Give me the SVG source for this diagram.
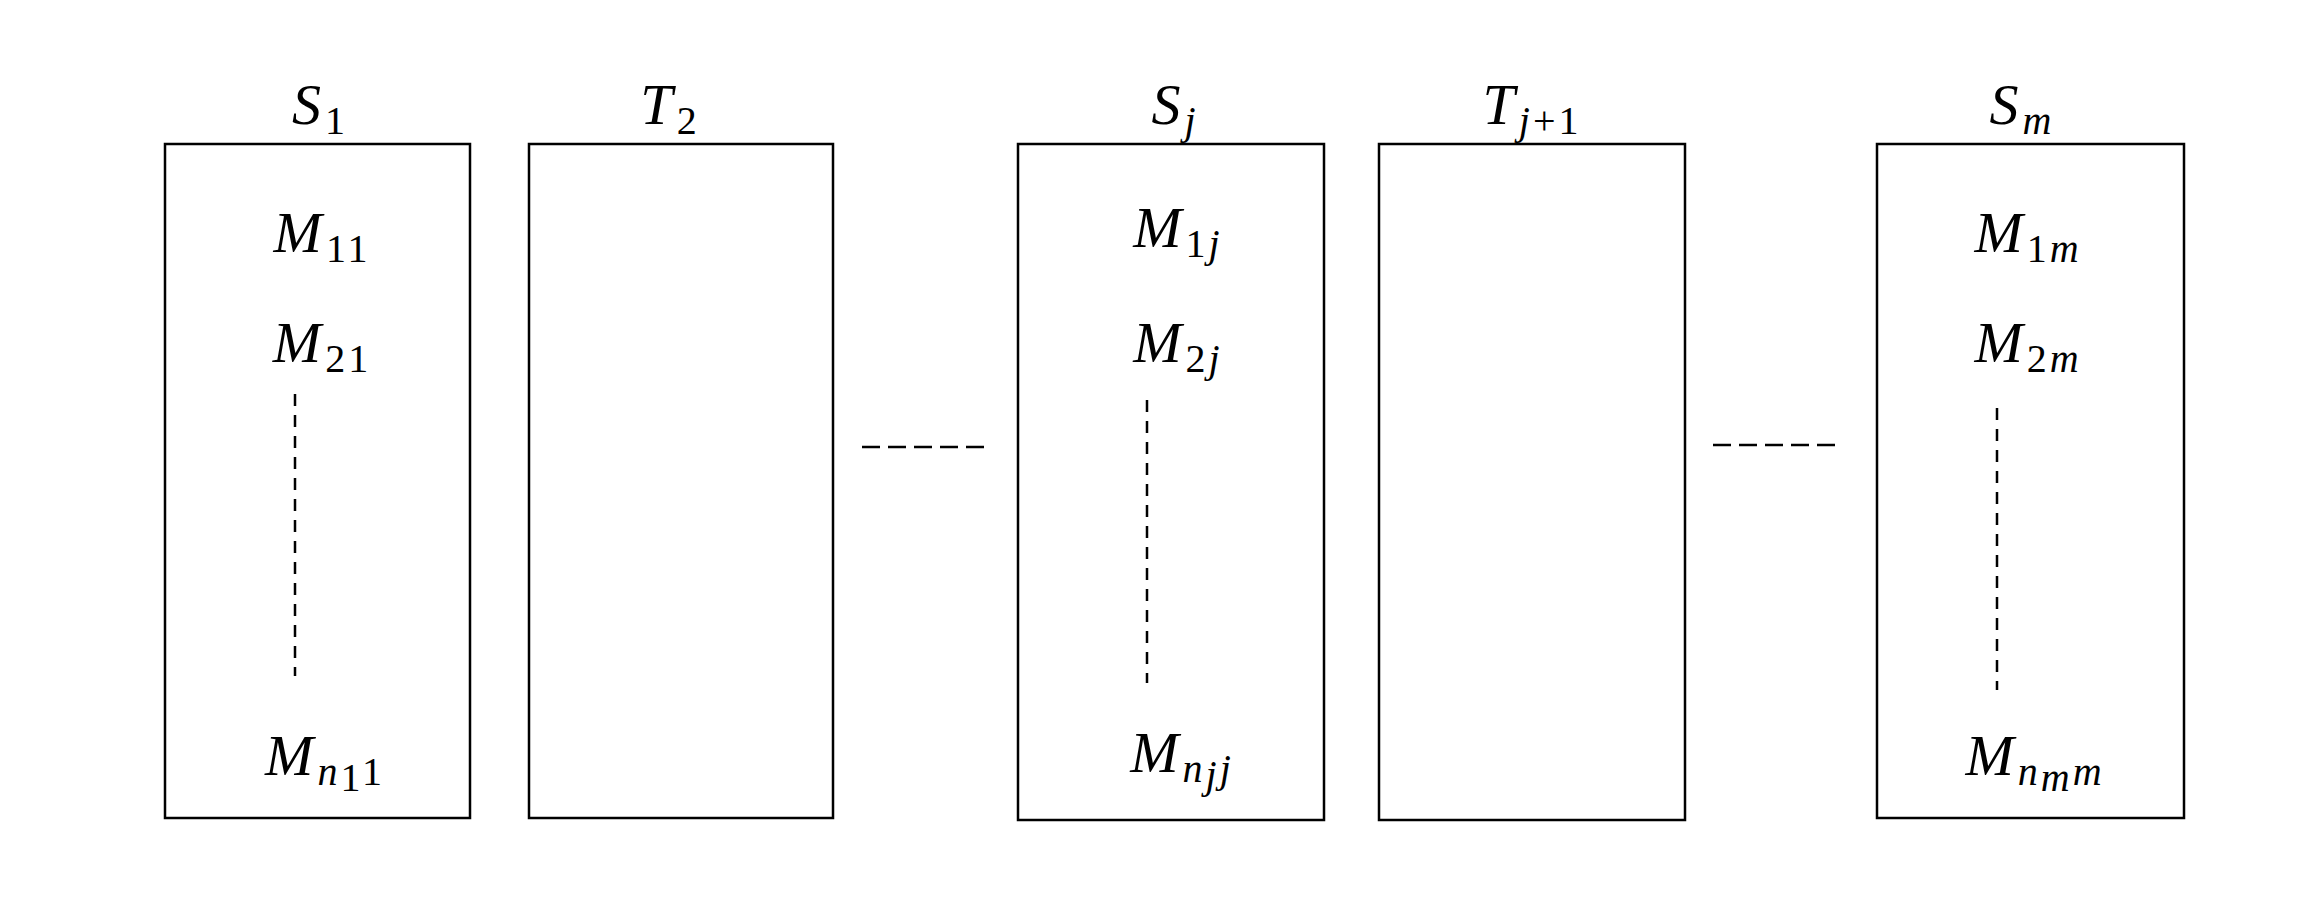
<svg xmlns="http://www.w3.org/2000/svg" width="2304" height="897" viewBox="0 0 2304 897">
<style>
.box{fill:#fff;stroke:#000;stroke-width:2.5}
.t{font-family:"Liberation Serif",serif;font-style:italic;font-size:58px;text-anchor:middle;fill:#000}
.s{font-size:40px;font-style:normal;letter-spacing:3px}
.si{font-size:40px;letter-spacing:3px}
.d{stroke:#000;stroke-width:2.5;stroke-dasharray:12,9;fill:none}
.h{stroke:#000;stroke-width:2.5;stroke-dasharray:18,8;fill:none}
</style>
<rect width="2304" height="897" fill="#fff"/>
<g id="S1"><rect class="box" x="165" y="144" width="305" height="674"/>
<text class="t" x="320" y="124">S<tspan class="s" dx="4" dy="10">1</tspan></text>
<text class="t" x="322" y="252">M<tspan class="s" dx="4" dy="10">11</tspan></text>
<text class="t" x="322" y="362">M<tspan class="s" dx="4" dy="10">21</tspan></text>
<text class="t" x="325" y="775">M<tspan class="si" dx="4" dy="10">n</tspan><tspan class="s" font-size="28" dy="6">1</tspan><tspan class="s" dy="-6">1</tspan></text></g>
<g id="T2"><rect class="box" x="529" y="144" width="304" height="674"/>
<text class="t" x="670" y="124">T<tspan class="s" dx="4" dy="10">2</tspan></text></g>
<g id="Sj"><rect class="box" x="1018" y="144" width="306" height="676"/>
<text class="t" x="1175" y="124">S<tspan class="si" dx="4" dy="10">j</tspan></text>
<text class="t" x="1178" y="247">M<tspan class="s" dx="4" dy="10">1</tspan><tspan class="si">j</tspan></text>
<text class="t" x="1178" y="362">M<tspan class="s" dx="4" dy="10">2</tspan><tspan class="si">j</tspan></text>
<text class="t" x="1182" y="772">M<tspan class="si" dx="4" dy="10">n</tspan><tspan class="si" font-size="28" dy="6">j</tspan><tspan class="si" dy="-6">j</tspan></text></g>
<g id="Tj1"><rect class="box" x="1379" y="144" width="306" height="676"/>
<text class="t" x="1532" y="124">T<tspan class="si" dx="4" dy="10">j</tspan><tspan class="s">+1</tspan></text></g>
<g id="Sm"><rect class="box" x="1877" y="144" width="307" height="674"/>
<text class="t" x="2022" y="124">S<tspan class="si" dx="4" dy="10">m</tspan></text>
<text class="t" x="2028" y="252">M<tspan class="s" dx="4" dy="10">1</tspan><tspan class="si">m</tspan></text>
<text class="t" x="2028" y="362">M<tspan class="s" dx="4" dy="10">2</tspan><tspan class="si">m</tspan></text>
<text class="t" x="2035" y="775">M<tspan class="si" dx="4" dy="10">n</tspan><tspan class="si" font-size="28" dy="6">m</tspan><tspan class="si" dy="-6">m</tspan></text></g>
<g id="connectors">
<line class="d" x1="295" y1="394" x2="295" y2="676"/>
<line class="d" x1="1147" y1="400" x2="1147" y2="683"/>
<line class="d" x1="1997" y1="408" x2="1997" y2="690"/>
<line class="h" x1="862" y1="447" x2="987" y2="447"/>
<line class="h" x1="1713" y1="445" x2="1836" y2="445"/>
</g>
</svg>
